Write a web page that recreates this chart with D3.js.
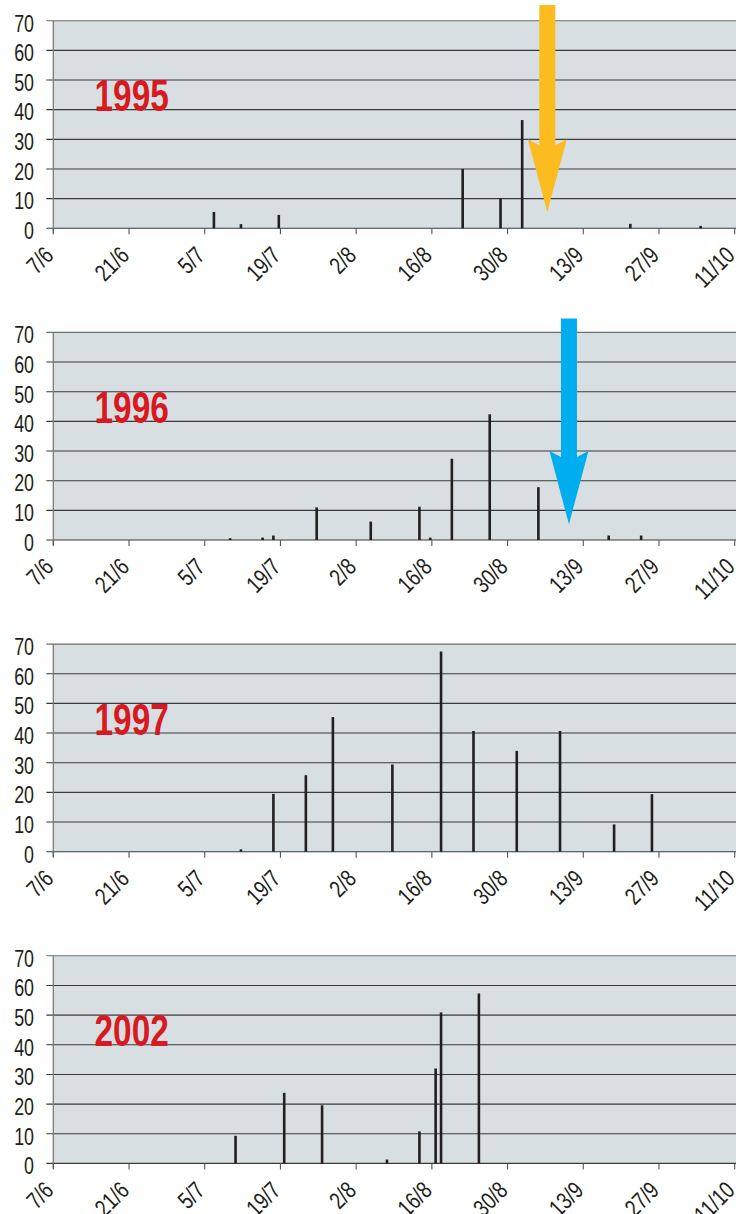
<!DOCTYPE html>
<html>
<head>
<meta charset="utf-8">
<script src="https://cdn.jsdelivr.net/npm/d3@7"></script>
<style>
  html, body { margin: 0; padding: 0; background: #ffffff; }
  svg { display: block; }
  text { font-family: "Liberation Sans", Arial, sans-serif; }
</style>
</head>
<body>
<svg id="chart" width="736" height="1214"></svg>
<script>
// ---------- DATA ----------
const years = ["1995", "1996", "1997", "2002"];

const dates1995  = ["6/7", "11/7", "18/7", "21/8", "28/8", "1/9", "21/9", "4/10"];
const values1995 = [5.5, 1.4, 4.5, 20, 10, 36.5, 1.5, 0.8];

const dates1996  = ["9/7", "15/7", "17/7", "25/7", "4/8", "13/8", "15/8", "19/8", "26/8", "4/9", "17/9", "23/9"];
const values1996 = [0.6, 0.8, 1.5, 11, 6.2, 11.2, 0.8, 27.4, 42.4, 17.8, 1.5, 1.5];

const dates1997  = ["11/7", "17/7", "23/7", "28/7", "8/8", "17/8", "23/8", "31/8", "8/9", "18/9", "25/9"];
const values1997 = [0.8, 19.5, 25.8, 45.4, 29.4, 67.5, 40.7, 34, 40.7, 9.2, 19.4];

const dates2002  = ["10/7", "19/7", "26/7", "7/8", "13/8", "16/8", "17/8", "24/8"];
const values2002 = [9.3, 23.8, 19.6, 1.3, 10.8, 32, 50.9, 57.3];

const xTickLabels = ["7/6", "21/6", "5/7", "19/7", "2/8", "16/8", "30/8", "13/9", "27/9", "11/10"];
const yTicks = [0, 10, 20, 30, 40, 50, 60, 70];

// arrow annotations (panel year, date pointed at, value of tip, value of head base, value of top)
const arrowYears = ["1995", "1996"];
const arrowDates = ["6/9", "10/9"];
const arrowTip   = [5.5, 5.3];
const arrowHead  = [30, 30];
const arrowTop   = [75.3, 74.7];

// ---------- STYLE / LAYOUT ----------
const arrowColors = ["#fcbb1f", "#00aeef"];
const plotLeft = 53.3, plotRight = 734.7, plotHeight = 207.6;
const firstTop = 20.7, panelStep = 311.7;
const barWidth = 2.6;
const barDayOffset = 0.7;

const seriesDates  = [dates1995, dates1996, dates1997, dates2002];
const seriesValues = [values1995, values1996, values1997, values2002];

const parseDM = s => { const [d, m] = s.split("/").map(Number); return new Date(2001, m - 1, d); };

const svg = d3.select("#chart");

const x = d3.scaleTime()
  .domain([parseDM(xTickLabels[0]), parseDM(xTickLabels[xTickLabels.length - 1])])
  .range([plotLeft, plotRight]);
const dayW = x(parseDM("8/6")) - x(parseDM("7/6"));

years.forEach((yr, i) => {
  const top = firstTop + i * panelStep;
  const y = d3.scaleLinear().domain([0, 70]).range([top + plotHeight, top]);
  const g = svg.append("g");

  // background
  g.append("rect")
    .attr("x", plotLeft).attr("y", y(70))
    .attr("width", 740 - plotLeft).attr("height", y(0) - y(70))
    .attr("fill", "#d8dfe2");

  // gridlines (with left tick stubs)
  g.selectAll("line.grid").data(yTicks).join("line")
    .attr("x1", plotLeft - 7).attr("x2", 740)
    .attr("y1", d => y(d)).attr("y2", d => y(d))
    .attr("stroke", d => d === 70 ? "#6d6d6d" : "#3a3a3a")
    .attr("stroke-width", 1.1);

  // left axis line
  g.append("line")
    .attr("x1", plotLeft).attr("x2", plotLeft)
    .attr("y1", y(70)).attr("y2", y(0) + 5)
    .attr("stroke", "#7a7a7a").attr("stroke-width", 1.3);

  // x ticks
  g.selectAll("line.xt").data(xTickLabels).join("line")
    .attr("x1", d => x(parseDM(d))).attr("x2", d => x(parseDM(d)))
    .attr("y1", y(0)).attr("y2", y(0) + 6)
    .attr("stroke", "#555").attr("stroke-width", 1.1);

  // y labels
  g.selectAll("text.yl").data(yTicks).join("text")
    .attr("transform", d => `translate(34,${y(d) + 10.8}) scale(0.76,1)`)
    .attr("text-anchor", "end")
    .attr("font-size", 23.5)
    .attr("fill", "#231f20")
    .text(d => d);

  // x labels (rotated)
  g.selectAll("text.xl").data(xTickLabels).join("text")
    .attr("transform", d => `translate(${x(parseDM(d)) + 1.5},${y(0) + 28.5}) rotate(-45) scale(0.78,1)`)
    .attr("text-anchor", "end")
    .attr("font-size", 24)
    .attr("fill", "#231f20")
    .text(d => d);

  // bars
  const data = seriesDates[i].map((d, k) => ({ date: parseDM(d), value: seriesValues[i][k] }));
  g.selectAll("rect.bar").data(data).join("rect")
    .attr("x", d => x(d.date) + barDayOffset * dayW - barWidth / 2)
    .attr("y", d => y(d.value))
    .attr("width", barWidth)
    .attr("height", d => y(0) - y(d.value))
    .attr("fill", "#231f20");

  // year label
  g.append("text")
    .attr("transform", `translate(94.5,${y(40) + 1.5}) scale(0.76,1)`)
    .attr("font-size", 44)
    .attr("font-weight", "bold")
    .attr("fill", "#d71a21")
    .text(yr);

  // arrow annotation
  const ai = arrowYears.indexOf(yr);
  if (ai >= 0) {
    const cx = x(parseDM(arrowDates[ai])) + 0.35 * dayW;
    const sw = 8, hw = 19.5;
    const yTop = y(arrowTop[ai]), yHead = y(arrowHead[ai]), yTip = y(arrowTip[ai]);
    const notch = 6;
    const path = [
      [cx - sw, yTop], [cx + sw, yTop], [cx + sw, yHead + notch],
      [cx + hw, yHead], [cx, yTip], [cx - hw, yHead], [cx - sw, yHead + notch]
    ];
    g.append("path")
      .attr("d", d3.line()(path) + "Z")
      .attr("fill", arrowColors[ai]);
  }
});
</script>
</body>
</html>
